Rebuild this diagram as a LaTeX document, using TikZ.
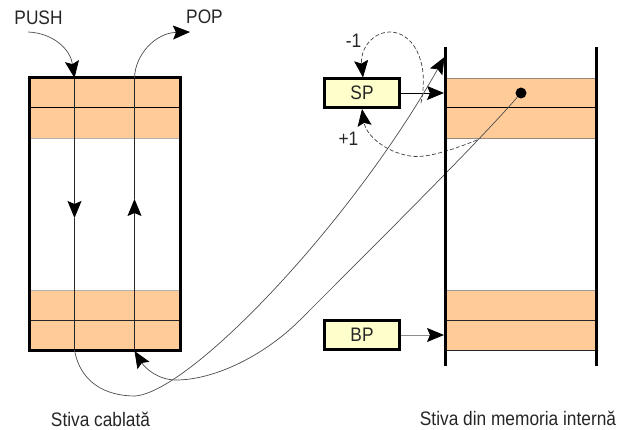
\documentclass[tikz,border=0pt]{standalone}
\usepackage{fontspec}
\setmainfont{Liberation Sans}
\usetikzlibrary{arrows.meta}
\newcommand{\tallt}[1]{\scalebox{1}[1.13]{#1}}
\tikzset{
  x=1pt,y=-1pt,
  big/.tip={Stealth[length=17pt,width=14pt,inset=3pt,black]},
  wall/.style={line width=3.2pt,line cap=butt},
  thinline/.style={draw=black!85,line width=.8pt},
  divider/.style={draw=black,line width=1pt},
  wire/.style={draw=black!70,line width=.7pt},
  dashwire/.style={draw=black!75,line width=.7pt,dash pattern=on 4pt off 2.2pt},
  reg/.style={draw=black,line width=3pt,fill=regc,minimum width=75pt,minimum height=29pt,inner sep=0pt,font=\fontsize{17.3}{20}\selectfont,text=black!85},
  txt/.style={inner sep=0pt,font=\fontsize{17.3}{20}\selectfont,text=black!85}
}
\definecolor{bandc}{RGB}{255,204,153}
\definecolor{bandl}{RGB}{150,135,120}
\definecolor{regc}{RGB}{255,255,204}
\begin{document}
\begin{tikzpicture}
\useasboundingbox (0,0) rectangle (618,430);
% left stack
\fill[bandc] (29,78) rectangle (180,138);
\fill[bandc] (29,290) rectangle (180,350);
\draw[draw=black!30,line width=.7pt] (29,138.5) -- (180,138.5) (29,290) -- (180,290);
\draw[divider] (29,108) -- (180,108);
\draw[thinline] (29,320) -- (180,320);
\coordinate (pushin) at (74.5,78);
\coordinate (pushout) at (74.5,350);
\coordinate (popin) at (134.5,350);
\coordinate (popout) at (134.5,78);
\coordinate (pushmid) at (74.5,218);
\coordinate (popmid) at (134.5,199);
\draw[thinline,-big] (pushin) -- (pushmid);
\draw[thinline] (pushmid) -- (pushout);
\draw[thinline,-big] (popin) -- (popmid);
\draw[thinline] (popmid) -- (popout);
\node[draw=black,line width=3pt,minimum width=151pt,minimum height=272pt,inner sep=0pt] (lstack) at (104.5,214) {};
% right stack
\fill[bandc] (445,78) rectangle (596,138);
\fill[bandc] (445,290) rectangle (596,350);
\draw[draw=bandl,line width=.8pt] (445,78) -- (596,78) (445,138) -- (596,138);
\draw[draw=black!40,line width=.8pt] (445,290) -- (596,290);
\draw[divider] (445,108) -- (596,108);
\draw[thinline] (445,320) -- (596,320) (445,350) -- (596,350);
\coordinate (wt) at (445.5,47); \coordinate (wb) at (445.5,366);
\coordinate (rt) at (596.5,47); \coordinate (rb) at (596.5,366);
% labels
\node[txt] (push) at (38.5,17.5) {\tallt{PUSH}};
\node[txt] (pop) at (204.5,17) {\tallt{POP}};
\node[txt] (minus) at (353.5,41) {\tallt{-1}};
\node[txt] (plus) at (348.5,139) {\tallt{+1}};
\node[txt] (lcap) at (100.5,419) {\tallt{Stiva cablată}};
\node[txt] (rcap) at (518,418) {\tallt{Stiva din memoria internă}};
% registers
\node[reg] (sp) at (362,93) {\tallt{SP}};
\node[reg] (bp) at (362,335) {\tallt{BP}};
\coordinate (spt) at (363,77.5); \coordinate (spb) at (362,109);
\coordinate (spw) at (444,93); \coordinate (bpw) at (444,335);
\draw[draw=black,line width=.7pt,-big] (sp.east) -- (spw);
\draw[draw=black!45,line width=1pt,-big] (bp.east) -- (bpw);
% push / pop arrows
\coordinate (pushs) at (28,32);
\coordinate (pops) at (190,32);
\draw[wire,-big] (pushs) .. controls (52,33) and (70,48) .. (pushin);
\draw[wire,-big] (popout) .. controls (135,55) and (155,33) .. (pops);
% long curves
\coordinate (c1a) at (135,396);
\coordinate (wtip) at (444.5,57);
\draw[wire] (pushout) .. controls (80,382) and (105,396) .. (c1a);
\draw[wire,-big] (c1a) .. controls (190,392) and (350,225) .. (wtip);
\node[circle,fill=black,inner sep=0pt,minimum size=11pt] (dot) at (521,93) {};
\coordinate (c2a) at (176,380);
\coordinate (c2m) at (300,320);
\coordinate (popb) at (134.5,351);
\draw[wire,-big] (c2a) .. controls (158,380) and (145,368) .. (popb);
\draw[wire] (dot) .. controls (480,140) and (400,220) .. (c2m) .. controls (265,355) and (215,380) .. (c2a);
% dashed
\coordinate (d1e) at (421,103);
\coordinate (d2e) at (477,140);
\draw[dashwire,-big] (d1e) .. controls (430,60) and (412,32) .. (390,32) .. controls (372,32) and (360,50) .. (spt);
\draw[dashwire,-big] (d2e) .. controls (440,155) and (420,158) .. (410,156) .. controls (385,152) and (366,135) .. (spb);
% walls
\draw[wall] (wt) -- (wb);
\draw[wall] (rt) -- (rb);
\end{tikzpicture}
\end{document}
